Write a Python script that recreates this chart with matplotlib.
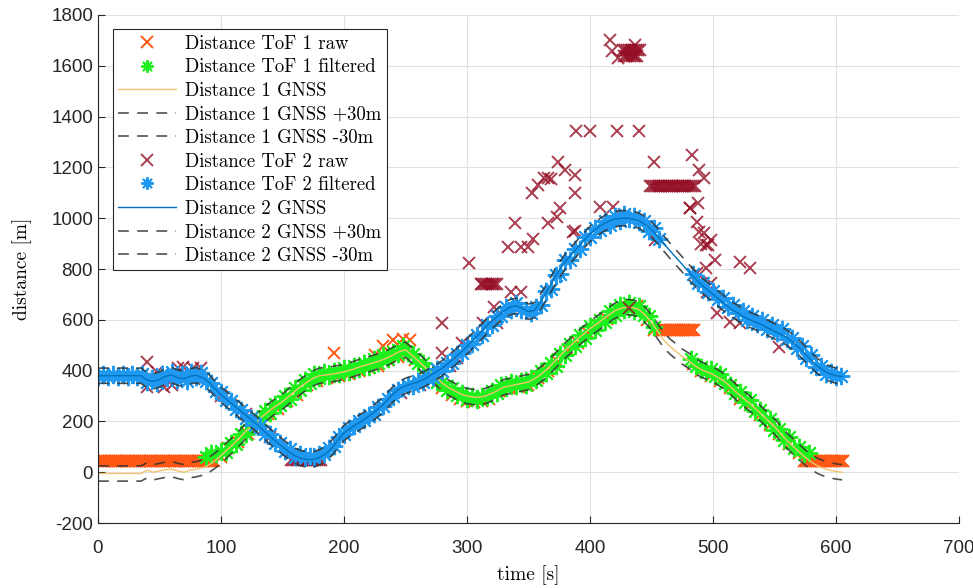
import numpy as np
import matplotlib
matplotlib.use("Agg")
import matplotlib.pyplot as plt

plt.rcParams["axes.unicode_minus"] = False
SERIF = ["cmr10", "DejaVu Serif"]
SANS = ["Liberation Sans", "DejaVu Sans"]

# --- GNSS distances, sampled every 5 s starting at t=0 ---
d1_gnss = [-5, -5, -5, -5, -5, -5, -5, -5, 8, 0, 5, 10, 12, 5, 0, 8, 12, 18, 28, 45,
           65, 88, 110, 135, 160, 183, 205, 225, 245, 262, 278, 298, 318, 338, 355, 370, 380, 383, 386, 390,
           395, 402, 410, 418, 425, 432, 440, 450, 462, 475, 482, 462, 440, 418, 395, 372, 350, 333, 320, 308,
           300, 296, 295, 300, 310, 322, 335, 340, 345, 350, 355, 368, 385, 405, 430, 455, 480, 502, 525, 545,
           565, 582, 600, 618, 635, 645, 650, 648, 640, 618, 590, 555, 520, 495, 475, 455, 440, 420, 405, 395,
           385, 370, 355, 333, 310, 290, 270, 248, 225, 202, 180, 152, 125, 102, 80, 58, 40, 25, 15, 8,
           3, 0]
d2_gnss = [380, 380, 380, 380, 380, 380, 380, 380, 362, 358, 365, 378, 382, 372, 368, 378, 382, 372, 355, 330,
           305, 285, 265, 245, 225, 205, 185, 162, 140, 120, 100, 82, 65, 55, 50, 50, 58, 72, 95, 125,
           155, 172, 188, 203, 220, 238, 258, 282, 308, 328, 340, 348, 355, 366, 380, 395, 410, 430, 450, 472,
           495, 520, 545, 570, 595, 615, 635, 650, 655, 645, 632, 638, 672, 712, 755, 795, 830, 858, 885, 912,
           938, 958, 975, 988, 996, 1000, 1000, 997, 990, 975, 955, 930, 900, 872, 845, 818, 790, 765, 740, 720,
           700, 680, 660, 642, 627, 612, 600, 590, 580, 567, 555, 543, 530, 512, 490, 465, 440, 418, 400, 388,
           380, 377]
gnss_step = 5
offset = 30  # +-30 m band

# --- ToF 1 filtered: two runs, every 4 s ---
f1a_start, f1b_start = 88, 482
f1a = [60, 75, 70, 85, 80, 115, 110, 150, 150, 185, 195, 210, 240, 235, 270, 265, 300, 290, 330, 325,
       365, 350, 385, 370, 395, 380, 400, 385, 410, 395, 420, 405, 430, 415, 445, 430, 460, 445, 475, 465,
       495, 470, 465, 430, 430, 395, 390, 355, 355, 325, 330, 305, 310, 290, 300, 285, 300, 295, 320, 310,
       345, 330, 355, 340, 360, 345, 370, 365, 400, 390, 430, 420, 465, 460, 505, 495, 540, 530, 575, 560,
       600, 590, 635, 620, 660, 640, 665, 635, 655, 620, 615, 570]
f1b = [445, 420, 415, 395, 405, 380, 385, 350, 345, 310, 315, 275, 285, 240, 245, 205, 210, 165, 170, 125,
       140, 95, 100, 70, 75]

# --- ToF 2 filtered: two runs, every 4 s ---
f2a_start, f2b_start = 0, 484
f2a = [375, 385, 375, 385, 375, 385, 375, 385, 375, 385, 355, 370, 350, 385, 370, 395, 365, 385, 360, 395,
       375, 390, 360, 350, 320, 315, 285, 280, 250, 245, 215, 215, 185, 180, 150, 150, 115, 115, 85, 90,
       60, 70, 55, 65, 55, 70, 70, 95, 105, 140, 150, 175, 180, 200, 205, 225, 230, 255, 260, 290,
       300, 325, 330, 345, 340, 360, 355, 380, 375, 405, 400, 430, 430, 465, 470, 500, 505, 540, 540, 580,
       580, 615, 615, 650, 640, 665, 640, 640, 625, 650, 660, 715, 720, 775, 780, 835, 835, 880, 880, 925,
       925, 960, 955, 990, 975, 1010, 990, 1015, 995, 1010, 985, 990, 950, 960, 920]
f2b = [780, 745, 745, 710, 715, 680, 685, 650, 660, 625, 635, 600, 615, 585, 600, 565, 580, 550, 565, 525,
       530, 490, 495, 450, 460, 415, 420, 385, 395, 375, 380]
f_step = 4

# --- ToF 1 raw ---
raw1_flat = [(0, 95, 45), (456, 486, 560), (574, 606, 45)]  # (start, stop, value)
raw1_t = [100, 106, 114, 122, 130, 138, 146, 154, 162, 170, 178, 186, 196, 204, 212, 220, 228, 236, 244, 250,
          258, 266, 272, 280, 288, 294, 300, 306, 312, 318, 326, 334, 342, 350, 358, 366, 374, 382, 390, 398,
          406, 414, 422, 430, 438, 446, 452, 484, 490, 498, 506, 514, 522, 530, 538, 546, 554, 562, 570,
          192, 225, 232, 240, 254, 248]
raw1_v = [60, 95, 120, 150, 185, 230, 250, 280, 305, 345, 360, 370, 380, 388, 400, 410, 420, 440, 455, 470,
          440, 405, 370, 330, 305, 290, 280, 278, 280, 290, 320, 330, 335, 345, 370, 400, 435, 480, 510, 550,
          580, 605, 640, 650, 655, 600, 560, 425, 400, 380, 360, 330, 290, 265, 225, 185, 150, 110, 75,
          469, 460, 496, 520, 520, 525]

# --- ToF 2 raw ---
raw2_flat = [(157, 182, 50), (311, 326, 740), (449, 486, 1128), (427, 441, 1662), (428, 440, 1638)]
raw2_t = [40, 40, 48, 54, 60, 65, 69, 77, 84, 100, 120, 140, 246, 262, 270, 286, 292,
          280, 280, 296, 302, 313, 322, 324, 336, 344, 333, 339, 344, 350, 354, 353, 358, 363, 366, 368,
          374, 380, 366, 373, 376, 388, 388, 388, 386, 389, 400, 422, 440, 416, 437, 418, 423,
          408, 419, 432, 452, 453, 481, 483, 489, 489, 493, 494, 488, 481, 487, 490, 493, 496, 498,
          502, 494, 498, 487, 492, 495, 503, 514, 522, 554, 522, 530]
raw2_v = [433, 335, 393, 335, 342, 409, 413, 409, 409, 300, 230, 140, 310, 345, 365, 420, 450,
          587, 469, 508, 823, 587, 650, 587, 709, 709, 886, 980, 886, 886, 917, 1098, 1130, 1157, 1160, 1155,
          1220, 1189, 980, 1004, 1039, 1098, 949, 1169, 945, 1343, 1343, 1343, 1343, 1700, 1680, 1660, 1630,
          1043, 1043, 646, 1220, 913, 1039, 1248, 1189, 945, 1157, 894, 1059, 1039, 984, 900, 940, 894, 913,
          835, 803, 744, 783, 744, 709, 626, 591, 587, 492, 827, 803]


def flat_points(segments, step=1.5):
    ts, vs = [], []
    for a, b, v in segments:
        tt = np.arange(a, b, step)
        ts.append(tt)
        vs.append(np.full(len(tt), v))
    return np.concatenate(ts), np.concatenate(vs)


t_g1 = np.arange(len(d1_gnss)) * gnss_step
t_g2 = np.arange(len(d2_gnss)) * gnss_step
d1 = np.array(d1_gnss, float)
d2 = np.array(d2_gnss, float)

f1_t = np.concatenate([f1a_start + np.arange(len(f1a)) * f_step, f1b_start + np.arange(len(f1b)) * f_step])
f1_v = np.array(f1a + f1b, float)
f2_t = np.concatenate([f2a_start + np.arange(len(f2a)) * f_step, f2b_start + np.arange(len(f2b)) * f_step])
f2_v = np.array(f2a + f2b, float)

r1ft, r1fv = flat_points(raw1_flat)
r1_t = np.concatenate([r1ft, raw1_t])
r1_v = np.concatenate([r1fv, raw1_v])
r2ft, r2fv = flat_points(raw2_flat)
r2_t = np.concatenate([r2ft, raw2_t])
r2_v = np.concatenate([r2fv, raw2_v])

C_RAW1 = "#FF5714"
C_F1 = "#1DF01D"
C_G1 = "#F2C46E"
C_RAW2 = "#950F26"
C_F2 = "#1E98F0"
C_G2 = "#0072BD"
C_DASH = "#333333"
ASTER = (8, 2, 0)
DASH = (0, (6.5, 5))

fig = plt.figure(figsize=(9.73, 5.88), dpi=100)
ax = fig.add_axes([0.1007, 0.1105, 0.8849, 0.864])

ax.plot(r1_t, r1_v, ls="none", marker="x", ms=8.5, mew=1.4, color=C_RAW1, label="Distance ToF 1 raw")
ax.plot(f1_t, f1_v, ls="none", marker=ASTER, ms=12.5, mew=1.4, color=C_F1, label="Distance ToF 1 filtered")
ax.plot(t_g1, d1, color=C_G1, lw=1.0, label="Distance 1 GNSS")
ax.plot(t_g1, d1 + offset, color=C_DASH, lw=1.2, ls=DASH, alpha=0.85, label="Distance 1 GNSS +30m")
ax.plot(t_g1, d1 - offset, color=C_DASH, lw=1.2, ls=DASH, alpha=0.85, label="Distance 1 GNSS -30m")
ax.plot(r2_t, r2_v, ls="none", marker="x", ms=8.5, mew=1.4, color=C_RAW2, alpha=0.8, label="Distance ToF 2 raw")
ax.plot(f2_t, f2_v, ls="none", marker=ASTER, ms=12.5, mew=1.4, color=C_F2, label="Distance ToF 2 filtered")
ax.plot(t_g2, d2, color=C_G2, lw=1.0, label="Distance 2 GNSS")
ax.plot(t_g2, d2 + offset, color=C_DASH, lw=1.2, ls=DASH, alpha=0.85, label="Distance 2 GNSS +30m")
ax.plot(t_g2, d2 - offset, color=C_DASH, lw=1.2, ls=DASH, alpha=0.85, label="Distance 2 GNSS -30m")

ax.set_xlim(0, 700)
ax.set_ylim(-200, 1800)
ax.set_xticks(np.arange(0, 701, 100))
ax.set_yticks(np.arange(-200, 1801, 200))
ax.grid(True, color="#e0e0e0", lw=0.8)
ax.set_axisbelow(True)
for s in ("top", "right"):
    ax.spines[s].set_visible(False)
for s in ("left", "bottom"):
    ax.spines[s].set_color("#262626")
    ax.spines[s].set_linewidth(0.8)
ax.tick_params(direction="in", length=5, width=0.8, color="#262626", labelcolor="#262626", labelsize=13.5)
ax.tick_params(axis="x", pad=12)
for lab in ax.get_xticklabels() + ax.get_yticklabels():
    lab.set_family(SANS)

ax.set_xlabel("time [s]", family=SERIF, fontsize=14, labelpad=6)
ax.set_ylabel("distance [m]", family=SERIF, fontsize=14, labelpad=14)

leg = ax.legend(loc="upper left", bbox_to_anchor=(0.017, 0.972), prop={"family": SERIF, "size": 13.5},
                frameon=True, fancybox=False, edgecolor="#262626", framealpha=1, numpoints=1,
                handlelength=3.1, handletextpad=0.45, labelspacing=0.3, borderpad=0.3, borderaxespad=0)
leg.get_frame().set_linewidth(0.8)
for h in leg.legend_handles:
    if h.get_marker() not in (None, "None", ""):
        h.set_markersize(9)

fig.savefig("out.png", dpi=100)
